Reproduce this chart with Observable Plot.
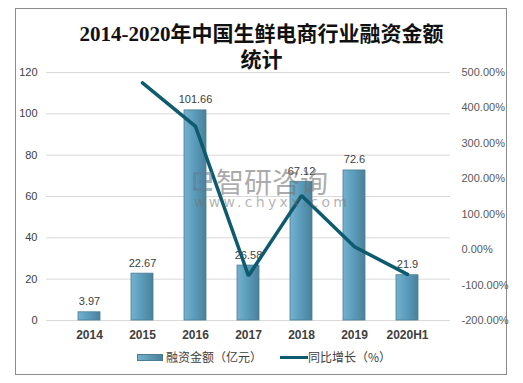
<!DOCTYPE html>
<html>
<head>
<meta charset="utf-8">
<script src="https://cdn.jsdelivr.net/npm/d3@7"></script>
<script src="https://cdn.jsdelivr.net/npm/@observablehq/plot@0.6"></script>
<style>
  html, body { margin: 0; padding: 0; background: #fff; }
  #wrap { position: relative; width: 523px; height: 383px; overflow: hidden; background: #fff; }
  #frame { position: absolute; left: 15px; top: 8px; width: 492px; height: 367px; border: 1px solid #8c8c8c; box-sizing: border-box; }
  #title { position: absolute; left: 0; top: 21px; width: 523px; text-align: center; font-family: "Liberation Serif", "Noto Sans CJK SC", serif; font-weight: bold; font-size: 21px; line-height: 26px; color: #111; white-space: nowrap; }
  #chart { position: absolute; left: 0; top: 62px; }
  #legend { position: absolute; left: 0; top: 349px; width: 523px; height: 16px; font-family: "Noto Sans CJK SC", sans-serif; font-size: 12px; color: #404040; }
  .lg { position: absolute; top: 0; line-height: 16px; white-space: nowrap; }
  #wm { position: absolute; left: 0; top: 0; width: 523px; height: 383px; pointer-events: none; }
  #wm1 { position: absolute; left: 216px; top: 164px; font-family: "Noto Sans CJK SC", sans-serif; font-size: 28px; color: rgba(115,115,115,0.6); letter-spacing: 0px; white-space: nowrap; line-height: 34px; }
  #wm2 { position: absolute; left: 194px; top: 194px; font-family: "DejaVu Sans", sans-serif; font-size: 14px; color: rgba(115,115,115,0.55); letter-spacing: 3.3px; white-space: nowrap; line-height: 16px; }
  .lb { position: absolute; background: rgba(95,125,150,0.55); }
</style>
</head>
<body>
<div id="wrap">
  <div id="frame"></div>
  <div id="title">2014-2020年中国生鲜电商行业融资金额<br>统计</div>
  <div id="chart"></div>
  <div id="wm">
    <div class="lb" style="left:193px;top:172px;width:19px;height:3px;"></div>
    <div class="lb" style="left:193px;top:175px;width:3px;height:15px;"></div>
    <div class="lb" style="left:193px;top:188px;width:19px;height:3px;"></div>
    <div class="lb" style="left:199px;top:180px;width:13px;height:3px;"></div>
    <div class="lb" style="left:209px;top:175px;width:3px;height:5px;"></div>
    <div id="wm1">智研咨询</div>
    <div id="wm2">www.chyxx.com</div>
  </div>
  <div id="legend"></div>
</div>
<script>
const categories = ["2014", "2015", "2016", "2017", "2018", "2019", "2020H1"];
const amounts = [3.97, 22.67, 101.66, 26.58, 67.12, 72.6, 21.9];
const growthPct = [null, 471, 348, -73.9, 152.5, 8.2, -69.8];
const amountLabels = ["3.97", "22.67", "101.66", "26.58", "67.12", "72.6", "21.9"];
const leftTicks = [0, 20, 40, 60, 80, 100, 120];
const rightTicks = [-200, -100, 0, 100, 200, 300, 400, 500];
const legendNames = ["融资金额（亿元）", "同比增长（%）"];

const leftMax = 120, pMin = -200, pMax = 500;
const toY = p => (p - pMin) * leftMax / (pMax - pMin);

const barData = categories.map((c, i) => ({cat: c, v: amounts[i], label: amountLabels[i]}));
const lineData = categories.map((c, i) => ({cat: c, g: growthPct[i]})).filter(d => d.g !== null);

const font = "'Liberation Sans', 'Noto Sans CJK SC', sans-serif";

const chart = Plot.plot({
  width: 523,
  height: 290,
  marginTop: 10,
  marginBottom: 32,
  marginLeft: 46,
  marginRight: 73,
  style: {fontFamily: font, fontSize: "11px", color: "#404040", background: "transparent", overflow: "visible"},
  x: {domain: categories, padding: 0.58, axis: null},
  y: {domain: [0, leftMax], axis: null},
  marks: [
    Plot.ruleY(leftTicks, {stroke: "#d9d9d9", strokeWidth: 1}),
    Plot.barY(barData, {x: "cat", y: "v", fill: "url(#barGrad)", stroke: "#4a7d94", strokeWidth: 0.8}),
    Plot.text(barData, {x: "cat", y: "v", text: "label", lineAnchor: "bottom", dy: -7, fill: "#404040", fontSize: 11}),
    Plot.line(lineData, {x: "cat", y: d => toY(d.g), stroke: "#0e5a6e", strokeWidth: 3.5, strokeLinejoin: "miter"}),
    Plot.text(leftTicks, {y: d => d, frameAnchor: "left", text: d => String(d), textAnchor: "end", dx: -9, fill: "#404040", fontSize: 11}),
    Plot.text(rightTicks, {y: d => toY(d), frameAnchor: "right", text: d => d.toFixed(2) + "%", textAnchor: "start", dx: 11, fill: "#595959", fontSize: 11}),
    Plot.text(categories, {x: d => d, frameAnchor: "bottom", text: d => d, dy: 18, fontWeight: "bold", fill: "#404040", fontSize: 12})
  ]
});

const ns = "http://www.w3.org/2000/svg";
const defs = document.createElementNS(ns, "defs");
defs.innerHTML = `<linearGradient id="barGrad" x1="0" y1="0" x2="1" y2="0">
  <stop offset="0" stop-color="#74b2cf"/>
  <stop offset="0.5" stop-color="#5a9bba"/>
  <stop offset="1" stop-color="#4b8099"/>
</linearGradient>`;
chart.insertBefore(defs, chart.firstChild);
document.getElementById("chart").appendChild(chart);

// legend
const lg = document.getElementById("legend");
lg.innerHTML = `
  <div class="lg" style="left:137px;"><span style="display:inline-block;width:26px;height:7px;vertical-align:middle;margin-top:-2px;background:linear-gradient(to right,#74b2cf,#4b8099);border:0.5px solid #4a7d94;box-sizing:border-box;"></span><span style="margin-left:3px;">${legendNames[0]}</span></div>
  <div class="lg" style="left:280px;"><span style="display:inline-block;width:28px;height:3px;vertical-align:middle;margin-top:-2px;background:#0e5a6e;"></span><span>${legendNames[1]}</span></div>
`;
</script>
</body>
</html>
